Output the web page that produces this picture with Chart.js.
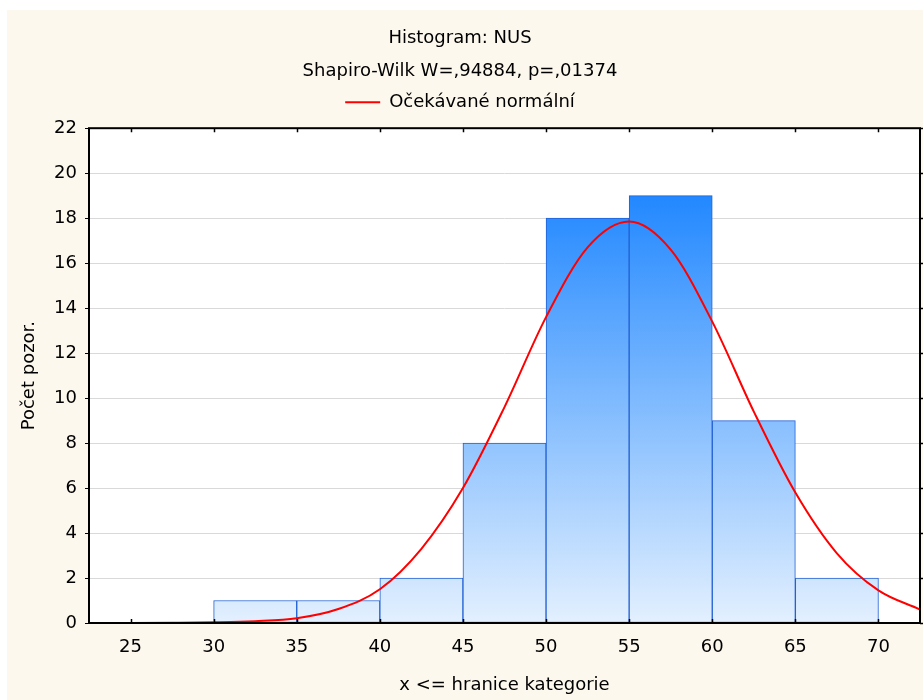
<!DOCTYPE html>
<html>
<head>
<meta charset="utf-8">
<script src="https://cdn.jsdelivr.net/npm/chart.js@4/dist/chart.umd.min.js"></script>
<style>
  html, body { margin: 0; padding: 0; background: #ffffff; }
  #wrap { width: 923px; height: 700px; position: relative; }
</style>
</head>
<body>
<div id="wrap"><canvas id="c" width="923" height="700"></canvas></div>
<script>
// Histogram bins (upper bound of each class) and observed counts
const binUpper = [30, 35, 40, 45, 50, 55, 60, 65, 70];
const binCounts = [0, 1, 1, 2, 8, 18, 19, 9, 2];
const binWidth = 5;

// Expected normal curve, sampled along x
const curveX = [22.5, 25, 27.5, 30, 32.5, 35, 37.5, 40, 42.5, 45, 47.5, 50, 52.5, 55, 57.5, 60, 62.5, 65, 67.5, 70, 72.5];
const curveY = [0.00, 0.00, 0.01, 0.03, 0.08, 0.21, 0.62, 1.5, 3.3, 6.0, 9.6, 13.6, 16.7, 17.85, 16.6, 13.4, 9.4, 5.8, 3.1, 1.45, 0.6];

// Axis ticks
const xTicks = [25, 30, 35, 40, 45, 50, 55, 60, 65, 70];
const yTicks = [0, 2, 4, 6, 8, 10, 12, 14, 16, 18, 20, 22];

const FONT = "'DejaVu Sans', sans-serif";
const CREAM = '#fcf8ee';

const barData = binUpper.map((u, i) => ({ x: u - binWidth / 2, y: binCounts[i] }));
const lineData = curveX.map((x, i) => ({ x: x, y: curveY[i] }));

function barGradient(ctx) {
  const chart = ctx.chart;
  const area = chart.chartArea;
  if (!area) return '#8ec4fa';
  const ys = chart.scales.y;
  const g = chart.ctx.createLinearGradient(0, ys.getPixelForValue(19), 0, ys.getPixelForValue(0));
  g.addColorStop(0, '#2288ff');
  g.addColorStop(1, '#e3f0fe');
  return g;
}

const framePlugin = {
  id: 'frame',
  beforeDraw(chart) {
    const c = chart.ctx;
    const a = chart.chartArea;
    c.save();
    c.fillStyle = '#ffffff';
    c.fillRect(0, 0, chart.width, chart.height);
    c.fillStyle = CREAM;
    c.fillRect(7, 10, chart.width - 7, chart.height - 10);
    c.fillStyle = '#ffffff';
    c.fillRect(a.left, a.top, a.right - a.left, a.bottom - a.top);
    c.restore();
  },
  afterDraw(chart) {
    const c = chart.ctx;
    const a = chart.chartArea;
    const xs = chart.scales.x, ys = chart.scales.y;
    c.save();
    c.strokeStyle = '#000000';
    c.lineWidth = 2;
    c.strokeRect(a.left, a.top, a.right - a.left, a.bottom - a.top);
    c.lineWidth = 1.5;
    c.beginPath();
    xTicks.forEach(v => {
      const px = Math.round(xs.getPixelForValue(v)) + 0.5;
      c.moveTo(px, a.bottom); c.lineTo(px, a.bottom - 4);
      c.moveTo(px, a.top); c.lineTo(px, a.top + 4);
    });
    yTicks.forEach(v => {
      const py = Math.round(ys.getPixelForValue(v)) + 0.5;
      c.moveTo(a.right, py); c.lineTo(a.right + 4, py);
    });
    c.stroke();
    c.restore();
  }
};

new Chart(document.getElementById('c'), {
  type: 'bar',
  data: {
    datasets: [
      {
        type: 'bar',
        label: 'Počet',
        data: barData,
        backgroundColor: barGradient,
        borderColor: '#2160d4',
        borderWidth: 1,
        borderSkipped: false,
        barPercentage: 1,
        categoryPercentage: 1,
        order: 2
      },
      {
        type: 'line',
        label: 'Očekávané normální',
        data: lineData,
        borderColor: '#ff0000',
        backgroundColor: '#ff0000',
        borderWidth: 2,
        pointRadius: 0,
        cubicInterpolationMode: 'monotone',
        fill: false,
        order: 1
      }
    ]
  },
  options: {
    responsive: false,
    animation: false,
    devicePixelRatio: 1,
    layout: { padding: { top: 28, right: 3, bottom: 0, left: 0 } },
    plugins: {
      title: {
        display: true,
        text: 'Histogram: NUS',
        color: '#000000',
        font: { family: FONT, size: 18, weight: 'normal' },
        padding: { top: 0, bottom: 11 }
      },
      subtitle: {
        display: true,
        text: 'Shapiro-Wilk W=,94884, p=,01374',
        color: '#000000',
        font: { family: FONT, size: 18, weight: 'normal' },
        padding: { top: 0, bottom: 0 }
      },
      legend: {
        display: true,
        position: 'top',
        labels: {
          color: '#000000',
          font: { family: FONT, size: 18 },
          boxWidth: 35,
          boxHeight: 2,
          padding: 11,
          generateLabels: (chart) => [{
            text: chart.data.datasets[1].label,
            fillStyle: '#ff0000',
            strokeStyle: '#ff0000',
            lineWidth: 0,
            hidden: false,
            datasetIndex: 1,
            fontColor: '#000000'
          }]
        }
      },
      tooltip: { enabled: false }
    },
    scales: {
      x: {
        type: 'linear',
        min: 22.5,
        max: 72.5,
        offset: false,
        afterBuildTicks: (s) => { s.ticks = xTicks.map(v => ({ value: v })); },
        afterFit: (s) => { s.height = 77; },
        ticks: {
          color: '#000000',
          font: { family: FONT, size: 18 },
          padding: 14,
          maxRotation: 0,
          autoSkip: false
        },
        grid: { display: false, drawTicks: false, offset: false },
        border: { display: false },
        title: {
          display: true,
          text: 'x <= hranice kategorie',
          color: '#000000',
          font: { family: FONT, size: 18 },
          padding: { top: 0, bottom: 4 }
        }
      },
      // empty strip separating the legend from the plot frame
      gap: {
        type: 'linear',
        position: 'top',
        display: true,
        min: 0,
        max: 1,
        afterFit: (s) => { s.height = 7; },
        ticks: { display: false },
        grid: { display: false, drawTicks: false },
        border: { display: false }
      },
      y: {
        type: 'linear',
        min: 0,
        max: 22,
        afterBuildTicks: (s) => { s.ticks = yTicks.map(v => ({ value: v })); },
        afterFit: (s) => { s.width = 89; },
        ticks: {
          color: '#000000',
          font: { family: FONT, size: 18 },
          padding: 8
        },
        grid: {
          color: '#d9d9d9',
          lineWidth: 1,
          tickColor: '#000000',
          tickLength: 4,
          drawTicks: true
        },
        border: { display: false },
        title: {
          display: true,
          text: 'Počet pozor.',
          color: '#000000',
          font: { family: FONT, size: 18 },
          padding: { top: 19, bottom: 0 }
        }
      }
    }
  },
  plugins: [framePlugin]
});
</script>
</body>
</html>
